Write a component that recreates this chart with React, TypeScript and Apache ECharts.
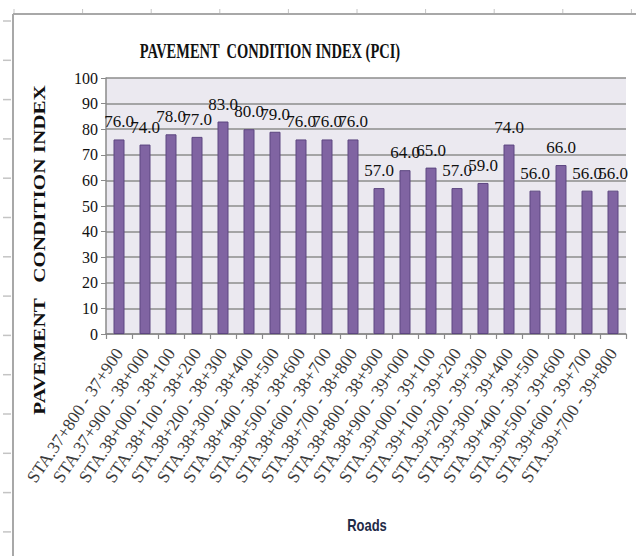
import React, { useEffect, useRef } from "react";
import * as echarts from "echarts";

const categories = [
  "STA.37+800 - 37+900",
  "STA.37+900 - 38+000",
  "STA.38+000 - 38+100",
  "STA.38+100 - 38+200",
  "STA.38+200 - 38+300",
  "STA.38+300 - 38+400",
  "STA.38+400 - 38+500",
  "STA.38+500 - 38+600",
  "STA.38+600 - 38+700",
  "STA.38+700 - 38+800",
  "STA.38+800 - 38+900",
  "STA.38+900 - 39+000",
  "STA.39+000 - 39+100",
  "STA.39+100 - 39+200",
  "STA.39+200 - 39+300",
  "STA.39+300 - 39+400",
  "STA.39+400 - 39+500",
  "STA.39+500 - 39+600",
  "STA.39+600 - 39+700",
  "STA.39+700 - 39+800",
];
const pciValues = [76, 74, 78, 77, 83, 80, 79, 76, 76, 76, 57, 64, 65, 57, 59, 74, 56, 66, 56, 56];
const yTicks = [0, 10, 20, 30, 40, 50, 60, 70, 80, 90, 100];

const titleText = "PAVEMENT  CONDITION INDEX (PCI)";
const yAxisName = "PAVEMENT   CONDITION INDEX";
const xAxisName = "Roads";

function measure(text: string, font: string): number {
  const c = document.createElement("canvas");
  const ctx = c.getContext("2d");
  if (!ctx) return 100;
  ctx.font = font;
  return ctx.measureText(text).width;
}

export default function App() {
  const ref = useRef<HTMLDivElement>(null);
  useEffect(() => {
    if (!ref.current) return;
    document.body.style.margin = "0";
    const chart = echarts.init(ref.current, null, { renderer: "svg" });

    const titleFont = "bold 20px 'Liberation Serif'";
    const titleScale = 261 / measure(titleText, titleFont);
    const yNameFont = "bold 16px 'Liberation Serif'";
    const yNameScale = 330 / measure(yAxisName, yNameFont);

    const frame: any[] = [];
    frame.push({
      type: "line",
      shape: { x1: 13, y1: 14, x2: 636, y2: 14 },
      style: { stroke: "#a8a8a8", lineWidth: 2 },
      silent: true,
    });
    frame.push({
      type: "line",
      shape: { x1: 13, y1: 14, x2: 13, y2: 556 },
      style: { stroke: "#a8a8a8", lineWidth: 2 },
      silent: true,
    });
    for (let k = 0; k < 10; k++) {
      const x = 14 + 68.6 * k;
      frame.push({
        type: "line",
        shape: { x1: x, y1: 9, x2: x, y2: 13 },
        style: { stroke: "#c4c4c4", lineWidth: 1 },
        silent: true,
      });
    }
    for (let k = 0; k < 14; k++) {
      const y = 21 + 39.3 * k;
      frame.push({
        type: "line",
        shape: { x1: 3, y1: y, x2: 11, y2: y },
        style: { stroke: "#c4c4c4", lineWidth: 1.5 },
        silent: true,
      });
    }

    const option: any = {
      animation: false,
      backgroundColor: "#ffffff",
      grid: {
        left: 106,
        right: 10,
        top: 78,
        bottom: 222,
        show: true,
        backgroundColor: "#EBE9F0",
        borderWidth: 0,
      },
      xAxis: {
        type: "category",
        data: categories,
        axisLine: { show: true, lineStyle: { color: "#8a8a8a", width: 1.5 } },
        axisTick: { show: true, length: 5, lineStyle: { color: "#8a8a8a", width: 1.2 } },
        axisLabel: {
          interval: 0,
          rotate: 56,
          margin: 16,
          fontFamily: "Liberation Serif",
          fontSize: 17.5,
          color: "#3a3a3a",
        },
      },
      yAxis: {
        type: "value",
        min: 0,
        max: 100,
        interval: 10,
        axisLine: { show: true, lineStyle: { color: "#8a8a8a", width: 1.5 } },
        axisTick: { show: true, length: 5, lineStyle: { color: "#8a8a8a" } },
        axisLabel: {
          margin: 8,
          fontFamily: "Liberation Serif",
          fontSize: 16,
          color: "#111111",
          formatter: (v: number) => (yTicks.indexOf(v) >= 0 ? String(v) : ""),
        },
        splitLine: { show: true, lineStyle: { color: "#8c8c8c", width: 1.5 } },
      },
      series: [
        {
          type: "bar",
          data: pciValues,
          barWidth: 11,
          itemStyle: { color: "#8064A2", borderColor: "#5C4680", borderWidth: 1 },
          label: {
            show: true,
            position: "top",
            distance: 9,
            fontFamily: "Liberation Serif",
            fontSize: 17,
            color: "#111111",
            formatter: (p: any) => Number(p.value).toFixed(1),
          },
        },
      ],
      graphic: [
        ...frame,
        {
          type: "text",
          x: 270,
          y: 51,
          scaleX: titleScale,
          style: {
            text: titleText,
            font: titleFont,
            fill: "#111111",
            textAlign: "center",
            textVerticalAlign: "middle",
          },
          silent: true,
        },
        {
          type: "text",
          x: 39,
          y: 250,
          rotation: Math.PI / 2,
          scaleX: yNameScale,
          style: {
            text: yAxisName,
            font: yNameFont,
            fill: "#111111",
            textAlign: "center",
            textVerticalAlign: "middle",
          },
          silent: true,
        },
        {
          type: "text",
          x: 367,
          y: 525,
          scaleY: 1.3,
          style: {
            text: xAxisName,
            font: "bold 13px 'Liberation Sans'",
            fill: "#1F2B47",
            textAlign: "center",
            textVerticalAlign: "middle",
          },
          silent: true,
        },
      ],
    };
    chart.setOption(option);
    return () => chart.dispose();
  }, []);
  return (
    <div
      ref={ref}
      style={{ position: "fixed", left: 0, top: 0, width: 636, height: 556 }}
    />
  );
}
